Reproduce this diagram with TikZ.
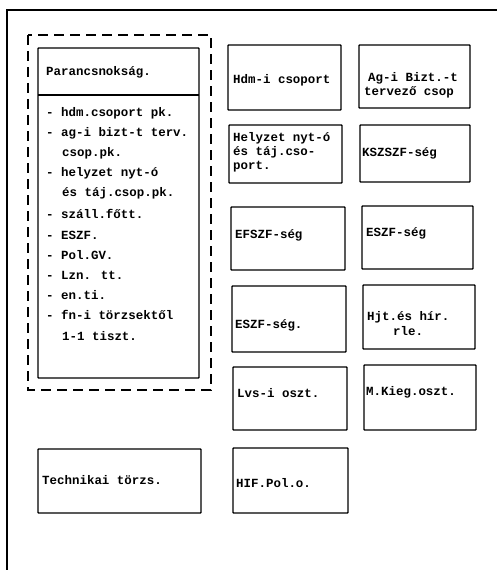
\documentclass[tikz,border=0pt]{standalone}
\usepackage{fontspec}
\newfontfamily\tw{Liberation Mono}
\begin{document}
\begin{tikzpicture}[x=1bp,y=-1bp,
  box/.style={draw, line width=1.3pt, rounded corners=0.6pt},
  dashbox/.style={draw, line width=1.4pt, dash pattern=on 10bp off 6bp},
  txt/.style={anchor=west, inner sep=0pt, font=\tw\bfseries\fontsize{12.5}{14}\selectfont}]
\useasboundingbox (0,0) rectangle (499,570);
% outer frame
\coordinate (fa) at (7,570);
\coordinate (fb) at (7,10);
\coordinate (fc) at (497,10);
\draw[line width=1.3pt] (fa) -- (fb) -- (fc);
% dashed group
\draw[dashbox] (28,35) rectangle (211,390);
% command box
\draw[box] (38,48) rectangle (199,378);
\coordinate (dl) at (38,95);
\coordinate (dr) at (199,95);
\draw[line width=1.3pt] (dl) -- (dr);
\node[txt] (title) at (46,72) {Parancsnokság.};
\node[txt] (i1) at (46,113) {- hdm.csoport pk.};
\node[txt] (i2) at (46,133) {- ag-i bizt-t terv.};
\node[txt] (i2b) at (62,153) {csop.pk.};
\node[txt] (i3) at (46,173) {- helyzet nyt-ó};
\node[txt] (i3b) at (62,193) {és táj.csop.pk.};
\node[txt] (i4) at (46,214) {- száll.főtt.};
\node[txt] (i5) at (46,235) {- ESZF.};
\node[txt] (i6) at (46,255) {- Pol.GV.};
\node[txt] (i7) at (46,275) {- Lzn. tt.};
\node[txt] (i8) at (46,295) {- en.ti.};
\node[txt] (i9) at (46,315) {- fn-i törzsektől};
\node[txt] (i9b) at (62,336) {1-1 tiszt.};
% right boxes
\draw[box] (228,45) rectangle (341,110);
\node[txt] (b1) at (233,80) {Hdm-i csoport};
\draw[box] (359,45) rectangle (470,108);
\node[txt] (b2a) at (368,78) {Ag-i Bizt.-t};
\node[txt] (b2b) at (364,92) {tervező csop};
\draw[box] (229,125) rectangle (342,183);
\node[txt] (b3a) at (233,138) {Helyzet nyt-ó};
\node[txt] (b3b) at (233,152) {és táj.cso-};
\node[txt] (b3c) at (233,167) {port.};
\draw[box] (360,125) rectangle (470,182);
\node[txt] (b4) at (362,153) {KSZSZF-ség};
\draw[box] (231,207) rectangle (345,270);
\node[txt] (b5) at (235,235) {EFSZF-ség};
\draw[box] (362,206) rectangle (473,269);
\node[txt] (b6) at (366,233) {ESZF-ség};
\draw[box] (232,286) rectangle (346,352);
\node[txt] (b7) at (235,325) {ESZF-ség.};
\draw[box] (363,285) rectangle (475,349);
\node[txt] (b8a) at (367,317) {Hjt.és hír.};
\node[txt] (b8b) at (393,331) {rle.};
\draw[box] (233,367) rectangle (347,430);
\node[txt] (b9) at (237,393) {Lvs-i oszt.};
\draw[box] (364,365) rectangle (476,430);
\node[txt] (b10) at (366,392) {M.Kieg.oszt.};
% bottom boxes
\draw[box] (38,449) rectangle (201,513);
\node[txt] (b11) at (42,480) {Technikai törzs.};
\draw[box] (233,448) rectangle (348,513);
\node[txt] (b12) at (236,483) {HIF.Pol.o.};
\end{tikzpicture}
\end{document}
